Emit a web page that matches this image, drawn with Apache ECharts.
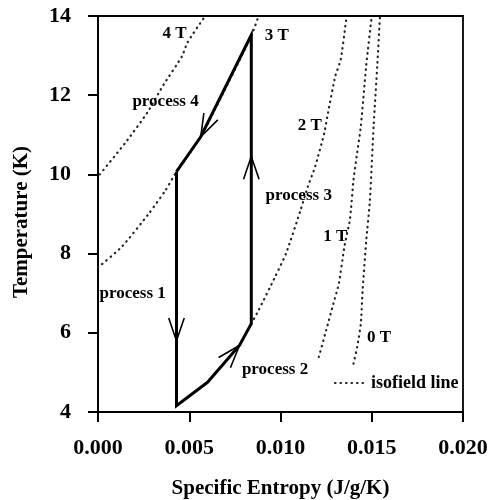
<!DOCTYPE html>
<html><head><meta charset="utf-8">
<script src="https://cdn.jsdelivr.net/npm/echarts@6/dist/echarts.min.js"></script>
<style>html,body{margin:0;padding:0;background:#fff}#c{width:490px;height:500px}</style>
</head><body><div id="c"></div>
<script>
// ---- data (entropy J/g/K, temperature K) ----
const xTickValues = [0, 0.005, 0.010, 0.015, 0.020];
const yTickValues = [4, 6, 8, 10, 12, 14];

const iso4T = [[0.0001,10.0],[0.0015,10.8],[0.0027,11.56],[0.0036,12.27],[0.0046,12.98],[0.0049,13.33],[0.0058,13.95],[0.0059,14.0]];
const iso3T = [[0.0,7.65],[0.0013,8.17],[0.0028,9.02],[0.0037,9.6],[0.0043,10.07],[0.00563,10.95],[0.0084,13.5],[0.0088,14.0]];
const iso2T = [[0.0084,6.23],[0.0088,6.57],[0.0097,7.41],[0.0103,8.0],[0.0111,9.1],[0.0115,9.69],[0.0119,10.2],[0.0124,11.05],[0.0126,11.55],[0.0130,12.48],[0.0133,12.9],[0.0136,13.9],[0.01365,14.0]];
const iso1T = [[0.0121,5.39],[0.0125,6.06],[0.0129,6.74],[0.0132,7.25],[0.0135,8.17],[0.0138,8.85],[0.0140,9.86],[0.0142,10.54],[0.0144,11.21],[0.0147,12.77],[0.0150,14.0]];
const iso0T = [[0.0140,5.22],[0.0142,5.64],[0.0144,6.23],[0.0145,7.08],[0.0147,8.34],[0.0149,9.35],[0.0151,11.21],[0.0153,12.73],[0.01545,14.0]];

const cycle = [[0.0043,10.07],[0.0043,4.16],[0.0060,4.75],[0.00775,5.68],[0.0084,6.23],[0.0084,13.52],[0.00563,10.95],[0.0043,10.07]];
// arrow: [tipX, tipY, backX, backY]
const arrows = [[0.0043,5.8,0.0043,10.07],[0.00563,10.95,0.0084,13.52],[0.0084,10.45,0.0084,6.23],[0.00775,5.68,0.0060,4.75]];

const labelNames = ['4 T','3 T','process 4','2 T','process 3','1 T','process 1','0 T','process 2'];
const labelX = [0.0042,0.0098,0.0037,0.0116,0.0110,0.0130,0.0019,0.0154,0.0097];
const labelY = [13.56,13.5,11.84,11.23,9.46,8.44,7.0,5.89,5.08];

const FONT = '"Liberation Serif", "DejaVu Serif", serif';
const dotted = {color:'#222', width:2.2, type:[0.5,5], cap:'round'};
function isoSeries(d){return {type:'line', data:d, showSymbol:false, smooth:0.2, lineStyle:dotted, z:2, silent:true};}

const chart = echarts.init(document.getElementById('c'));
chart.setOption({
  animation:false,
  backgroundColor:'#fff',
  grid:{left:98, right:27, top:16, bottom:88, outerBoundsMode:'none', containLabel:false,
    show:true, borderColor:'#000', borderWidth:1.8, backgroundColor:'transparent'},
  xAxis:{type:'value', min:0, max:0.02, interval:0.005,
    name:'Specific Entropy (J/g/K)', nameLocation:'middle', nameGap:66,
    nameTextStyle:{fontFamily:FONT, fontSize:21, fontWeight:'bold', color:'#000'},
    axisLine:{lineStyle:{color:'#000', width:2}},
    axisTick:{length:10, lineStyle:{color:'#000', width:2}},
    axisLabel:{margin:25, fontFamily:FONT, fontSize:22, fontWeight:'bold', color:'#000', formatter:v=>v.toFixed(3)},
    splitLine:{show:false}},
  yAxis:{type:'value', min:4, max:14, interval:2,
    axisLine:{lineStyle:{color:'#000', width:2}},
    axisTick:{length:10, lineStyle:{color:'#000', width:2}},
    axisLabel:{margin:27, fontFamily:FONT, fontSize:22, fontWeight:'bold', color:'#000'},
    splitLine:{show:false}},
  graphic:[
    {type:'text', x:22, y:222, rotation:Math.PI/2, style:{text:'Temperature (K)', font:'bold 21px '+FONT, fill:'#000', align:'center', verticalAlign:'middle'}},
    {type:'line', shape:{x1:335,y1:383,x2:363,y2:383}, style:{stroke:'#222', lineWidth:2.2, lineDash:[0.5,5], lineCap:'round'}},
    {type:'text', x:371, y:383, style:{text:'isofield line', font:'bold 18px '+FONT, fill:'#000', align:'left', verticalAlign:'middle'}}
  ],
  series:[
    isoSeries(iso4T), isoSeries(iso3T), isoSeries(iso2T), isoSeries(iso1T), isoSeries(iso0T),
    {type:'line', data:cycle, showSymbol:false, lineStyle:{color:'#000', width:3, join:'miter'}, z:5, silent:true},
    {type:'custom', data:arrows, encode:{x:0,y:1}, z:6, silent:true,
      renderItem:function(params, api){
        const tip = api.coord([api.value(0), api.value(1)]);
        const back = api.coord([api.value(2), api.value(3)]);
        const ang = Math.atan2(back[1]-tip[1], back[0]-tip[0]);
        const L = 24, a = 0.33;
        const p1 = [tip[0]+L*Math.cos(ang+a), tip[1]+L*Math.sin(ang+a)];
        const p2 = [tip[0]+L*Math.cos(ang-a), tip[1]+L*Math.sin(ang-a)];
        return {type:'polyline', shape:{points:[p1,tip,p2]}, style:{stroke:'#000', lineWidth:1.6, fill:null}};
      }},
    {type:'scatter', symbolSize:0, z:7, silent:true, itemStyle:{opacity:1},
      data:labelNames.map((n,i)=>({name:n, value:[labelX[i], labelY[i]]})),
      label:{show:true, position:'inside', formatter:p=>p.name, fontFamily:FONT, fontSize:17, fontWeight:'bold', color:'#000', opacity:1}}
  ]
});
</script></body></html>
